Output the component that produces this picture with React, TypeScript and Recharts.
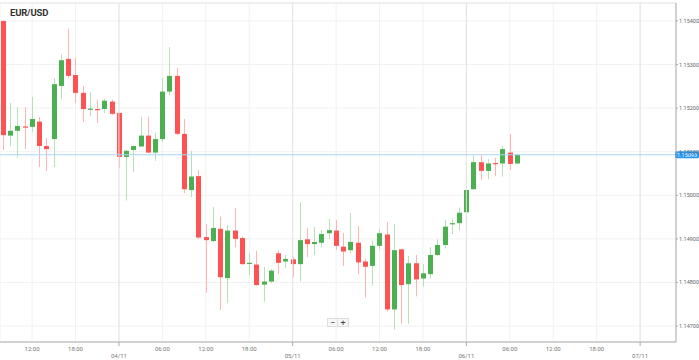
import React from 'react';
import { ComposedChart, Bar, XAxis, YAxis, CartesianGrid, ReferenceLine } from 'recharts';

const title = 'EUR/USD';

// hours relative to 04/11 00:00
const hours = [
  -16, -15, -14, -13, -12, -11, -10, -9, -8, -7, -6, -5, -4, -3, -2, -1,
  0, 1, 2, 3, 4, 5, 6, 7, 8, 9, 10, 11, 12, 13, 14, 15, 16, 17, 18, 19, 20, 21, 22, 23,
  24, 25, 26, 27, 28, 29, 30, 31, 32, 33, 34, 35, 36, 37, 38, 39, 40, 41, 42, 43, 44, 45, 46, 47,
  48, 49, 50, 51, 52, 53, 54, 55,
];

const opens = [
  1.15400, 1.15137, 1.15148, 1.15158, 1.15157, 1.15169, 1.15113, 1.15129, 1.15251, 1.15313,
  1.15276, 1.15235, 1.15198, 1.15198, 1.15198, 1.15215, 1.15189, 1.15088, 1.15104, 1.15112,
  1.15137, 1.15098, 1.15129, 1.15238, 1.15274, 1.15141, 1.15012, 1.15044, 1.14904, 1.14895,
  1.14923, 1.14810, 1.14919, 1.14902, 1.14843, 1.14841, 1.14795, 1.14802, 1.14867, 1.14848,
  1.14853, 1.14842, 1.14899, 1.14888, 1.14891, 1.14913, 1.14919, 1.14882, 1.14874, 1.14891,
  1.14848, 1.14838, 1.14884, 1.14910, 1.14738, 1.14876, 1.14796, 1.14844, 1.14809, 1.14819,
  1.14863, 1.14886, 1.14935, 1.14936, 1.14961, 1.15014, 1.15076, 1.15056, 1.15074, 1.15073,
  1.15098, 1.15073,
];

const highs = [
  1.15402, 1.15212, 1.15203, 1.15203, 1.15226, 1.15180, 1.15131, 1.15269, 1.15324, 1.15382,
  1.15315, 1.15251, 1.15237, 1.15219, 1.15221, 1.15219, 1.15190, 1.15104, 1.15114, 1.15180,
  1.15180, 1.15143, 1.15269, 1.15340, 1.15292, 1.15175, 1.15102, 1.15058, 1.14934, 1.14973,
  1.14951, 1.14932, 1.14971, 1.14905, 1.14868, 1.14873, 1.14836, 1.14831, 1.14874, 1.14863,
  1.14858, 1.14984, 1.14925, 1.14927, 1.14920, 1.14946, 1.14943, 1.14913, 1.14959, 1.14930,
  1.14854, 1.14896, 1.14922, 1.14938, 1.14934, 1.14877, 1.14861, 1.14863, 1.14842, 1.14881,
  1.14899, 1.14943, 1.14947, 1.14972, 1.15021, 1.15092, 1.15092, 1.15083, 1.15086, 1.15113,
  1.15141, 1.15095,
];

const lows = [
  1.15104, 1.15113, 1.15086, 1.15106, 1.15146, 1.15065, 1.15056, 1.15065, 1.15221, 1.15269,
  1.15212, 1.15168, 1.15182, 1.15166, 1.15189, 1.15184, 1.15063, 1.14988, 1.15054, 1.15111,
  1.15097, 1.15079, 1.15121, 1.15230, 1.15138, 1.15005, 1.14996, 1.14900, 1.14776, 1.14893,
  1.14737, 1.14753, 1.14881, 1.14840, 1.14817, 1.14792, 1.14756, 1.14799, 1.14819, 1.14833,
  1.14812, 1.14802, 1.14858, 1.14863, 1.14881, 1.14900, 1.14874, 1.14838, 1.14867, 1.14819,
  1.14765, 1.14793, 1.14874, 1.14734, 1.14692, 1.14705, 1.14705, 1.14768, 1.14791, 1.14809,
  1.14861, 1.14878, 1.14911, 1.14919, 1.14936, 1.15012, 1.15035, 1.15037, 1.15044, 1.15043,
  1.15058, 1.15072,
];

const closes = [
  1.15138, 1.15148, 1.15159, 1.15157, 1.15175, 1.15113, 1.15106, 1.15255, 1.15310, 1.15274,
  1.15235, 1.15198, 1.15199, 1.15197, 1.15217, 1.15187, 1.15088, 1.15102, 1.15113, 1.15137,
  1.15098, 1.15129, 1.15238, 1.15274, 1.15141, 1.15014, 1.15043, 1.14903, 1.14897, 1.14925,
  1.14812, 1.14919, 1.14900, 1.14842, 1.14845, 1.14794, 1.14802, 1.14827, 1.14845, 1.14854,
  1.14842, 1.14897, 1.14888, 1.14893, 1.14911, 1.14920, 1.14884, 1.14871, 1.14893, 1.14846,
  1.14836, 1.14884, 1.14913, 1.14738, 1.14874, 1.14794, 1.14844, 1.14807, 1.14821, 1.14863,
  1.14886, 1.14928, 1.14936, 1.14960, 1.15012, 1.15076, 1.15056, 1.15073, 1.15073, 1.15106,
  1.15072, 1.15093,
];

const lastPrice = 1.15093;
const yTicks = [1.147, 1.148, 1.149, 1.15, 1.151, 1.152, 1.153, 1.154];
const yDomain = [1.146633, 1.154413];
const xDomain = [-16.43, 76.96];
const xTicks = [-12, -6, 0, 6, 12, 18, 24, 30, 36, 42, 48, 54, 60, 66, 72];
const xTickLabels = [
  '12:00', '18:00', '04/11', '06:00', '12:00', '18:00', '05/11', '06:00',
  '12:00', '18:00', '06/11', '06:00', '12:00', '18:00', '07/11',
];
const dayTicks = [0, 24, 48, 72];

const GREEN = '#4caf50';
const RED = '#ff5252';
const GREEN_WICK = '#b7dfb8';
const RED_WICK = '#ffb4b4';

const data = hours.map((h, i) => ({
  h,
  open: opens[i],
  high: highs[i],
  low: lows[i],
  close: closes[i],
  range: [lows[i], highs[i]],
}));

const Candle = (props: any) => {
  const { x, y, width, height, payload } = props;
  if (x == null || y == null || !payload) return null;
  const top = Math.min(y, y + height);
  const h = Math.abs(height);
  const { open, close, high, low } = payload;
  const span = high - low || 1e-9;
  const py = (v: number) => top + ((high - v) / span) * h;
  const up = close >= open;
  const cx = Math.round(x + width / 2) + 0.5;
  const bTop = py(Math.max(open, close));
  const bBot = py(Math.min(open, close));
  const bh = Math.max(1.2, bBot - bTop);
  return (
    <g>
      <line x1={cx} x2={cx} y1={top} y2={top + h} stroke={up ? GREEN_WICK : RED_WICK} strokeWidth={1} />
      <rect x={cx - width / 2} y={bTop} width={width} height={bh} fill={up ? GREEN : RED} />
    </g>
  );
};

const XTick = (props: any) => {
  const { x, y, payload } = props;
  const idx = xTicks.indexOf(payload.value);
  const label = xTickLabels[idx] ?? '';
  const isDay = dayTicks.includes(payload.value);
  if (isDay) {
    return (
      <g>
        <line x1={x} x2={x} y1={y} y2={y + 4} stroke="#aaa" />
        <text x={x} y={y + 16} textAnchor="middle" fontSize={6} fill="#777">{label}</text>
      </g>
    );
  }
  return (
    <text x={x} y={y + 9} textAnchor="middle" fontSize={6} fill="#777">{label}</text>
  );
};

const PriceLabel = (props: any) => {
  const vb = props.viewBox || {};
  const x = (vb.x ?? 0) + (vb.width ?? 0);
  const y = vb.y ?? 0;
  return (
    <g>
      <rect x={x - 1} y={y - 3.5} width={24} height={7} rx={1.5} fill="#2196f3" />
      <text x={x + 11} y={y + 2} textAnchor="middle" fontSize={5.5} fill="#fff">{lastPrice.toFixed(5)}</text>
    </g>
  );
};

export default function App() {
  return (
    <div style={{ position: 'absolute', left: 0, top: 0, width: 699, height: 360, background: '#fff', fontFamily: 'Roboto, sans-serif' }}>
      <ComposedChart width={699} height={360} data={data} margin={{ top: 3, right: 0, bottom: 0, left: 0 }}>
        <CartesianGrid stroke="#f1f1f1" />
        {dayTicks.map((d) => (
          <ReferenceLine key={d} x={d} stroke="#e3e3e3" ifOverflow="hidden" />
        ))}
        <ReferenceLine y={yDomain[1]} stroke="#e6e6e6" />
        <XAxis
          type="number"
          dataKey="h"
          domain={xDomain}
          allowDataOverflow
          ticks={xTicks}
          interval={0}
          tick={<XTick />}
          tickLine={false}
          tickSize={0}
          tickMargin={0}
          axisLine={{ stroke: '#aaa' }}
          height={18}
        />
        <YAxis
          orientation="right"
          domain={yDomain}
          allowDataOverflow
          ticks={yTicks}
          interval={0}
          width={23}
          tickSize={2}
          tickMargin={1}
          tickLine={{ stroke: '#aaa' }}
          axisLine={{ stroke: '#aaa' }}
          tick={{ fontSize: 5.5, fill: '#666', textAnchor: 'start' }}
          tickFormatter={(v: number) => v.toFixed(5)}
        />
        <Bar dataKey="range" barSize={5} shape={<Candle />} isAnimationActive={false} />
        <ReferenceLine y={lastPrice} stroke="#a8d6f8" label={<PriceLabel />} />
      </ComposedChart>
      <div style={{ position: 'absolute', left: 10, top: 7, fontSize: 9.5, fontWeight: 700, color: '#333', letterSpacing: -0.2 }}>{title}</div>
      <div style={{ position: 'absolute', left: 327, top: 318, display: 'flex' }}>
        <div style={{ width: 11, height: 9, border: '1px solid #ddd', background: '#f7f7f7', fontSize: 9, lineHeight: '8px', textAlign: 'center', color: '#444', boxSizing: 'border-box' }}>−</div>
        <div style={{ width: 11, height: 9, border: '1px solid #ddd', borderLeft: 'none', background: '#f7f7f7', fontSize: 9, lineHeight: '8px', textAlign: 'center', color: '#444', boxSizing: 'border-box' }}>+</div>
      </div>
    </div>
  );
}
